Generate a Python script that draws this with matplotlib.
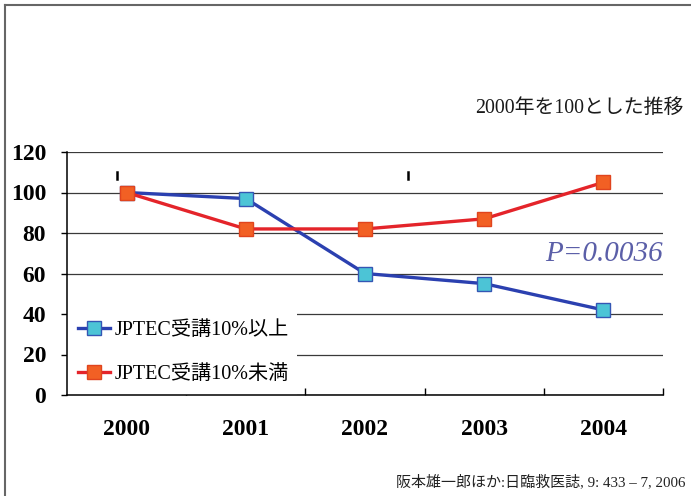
import matplotlib
matplotlib.use("Agg")
import matplotlib.pyplot as plt
from matplotlib.lines import Line2D
from matplotlib.patches import Rectangle

years = ["2000", "2001", "2002", "2003", "2004"]
above10 = [100, 97, 60, 55, 42]
below10 = [100, 82, 82, 87, 105]
label_above = "JPTEC受講10%以上"
label_below = "JPTEC受講10%未満"
yticks = [0, 20, 40, 60, 80, 100, 120]
subtitle = "2000年を100とした推移"
pvalue = "P=0.0036"
source = "阪本雄一郎ほか:日臨救医誌, 9: 433 – 7, 2006"

serif_cjk = ["Liberation Serif", "Noto Sans CJK JP"]

W, H = 691, 496
fig = plt.figure(figsize=(W / 100, H / 100), dpi=100)
fig.patch.set_facecolor("white")

# plot area in pixels: x 67-663, y 152-395
ax = fig.add_axes([67 / W, 1 - 395 / H, (663 - 67) / W, (395 - 152) / H])

x = list(range(len(years)))
ax.plot(x, above10, color="#2b40b0", lw=2.4, marker="s", ms=9.5,
        mfc="#4cc4d6", mec="#3456b4", mew=1.0, label=label_above, zorder=3)
ax.plot(x, below10, color="#e4242a", lw=2.4, marker="s", ms=9.5,
        mfc="#f26024", mec="#e0441e", mew=1.0, label=label_below, zorder=3)

ax.set_xlim(-0.5, len(years) - 0.5)
ax.set_ylim(0, 120)
ax.set_yticks(yticks)
ax.set_yticklabels([str(v) for v in yticks], fontfamily="Liberation Serif",
                   fontweight="bold", fontsize=17)
ax.set_xticks(x)
ax.set_xticklabels(years, fontfamily="Liberation Serif", fontweight="bold", fontsize=17)
ax.set_xticks([i + 0.5 for i in range(len(years))], minor=True)
ax.tick_params(axis="x", which="major", length=0, pad=17)
ax.tick_params(axis="x", which="minor", length=5, direction="in", width=1)
ax.tick_params(axis="y", which="major", length=4, direction="out", pad=11, width=1)

ax.grid(axis="y", color="#3a3a3a", lw=0.9)
ax.set_axisbelow(True)
for s in ["top", "right"]:
    ax.spines[s].set_visible(False)
for s in ["left", "bottom"]:
    ax.spines[s].set_color("black")
    ax.spines[s].set_linewidth(1.1)
    ax.spines[s].set_zorder(6)

# white box behind legend (covers gridlines like the reference)
ax.add_patch(Rectangle((0.0, 0.0), 0.386, 0.39, transform=ax.transAxes,
                       facecolor="white", edgecolor="none", zorder=4))

leg = ax.legend(loc="lower left", bbox_to_anchor=(0.0, 0.0), frameon=False,
                prop={"family": serif_cjk, "size": 14.5}, handlelength=1.6,
                handletextpad=0.2, labelspacing=1.25, borderpad=0.55,
                borderaxespad=0.0)
leg.set_zorder(5)

ax.text(1.0, 0.58, pvalue, transform=ax.transAxes, ha="right", va="center",
        fontsize=21, style="italic", color="#5b5fa8", fontfamily="Liberation Serif")

fig.text(683 / W, 1 - 108 / H, subtitle, ha="right", va="center", fontsize=14.3,
         fontfamily=serif_cjk, color="#1a1a1a")
fig.text(686 / W, 1 - 482 / H, source, ha="right", va="center", fontsize=10.8,
         fontfamily=serif_cjk, color="#222222")

# small stray marks seen in the reference
for px in (117, 408):
    fig.add_artist(Line2D([px / W, px / W], [1 - 172 / H, 1 - 179 / H], color="black",
                          lw=1.8, transform=fig.transFigure))

# outer frame (top and left edges)
fig.add_artist(Line2D([5 / W, 1.0], [1 - 5 / H, 1 - 5 / H], color="#666666", lw=1.5,
                      transform=fig.transFigure))
fig.add_artist(Line2D([5 / W, 5 / W], [0, 1 - 5 / H], color="#666666", lw=1.5,
                      transform=fig.transFigure))

fig.savefig("out.png", dpi=100, facecolor="white")
